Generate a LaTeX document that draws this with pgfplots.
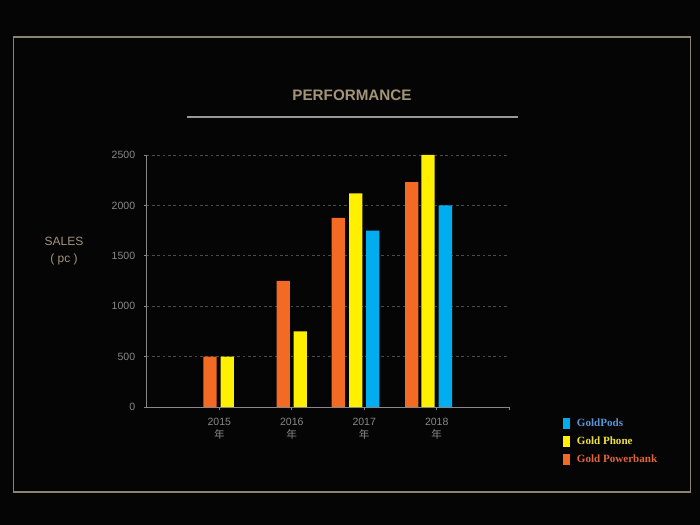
\documentclass[border=0pt]{standalone}
\usepackage{fontspec}
\setmainfont{Liberation Sans}
\newfontfamily\legfont{Liberation Serif}
\newfontfamily\cjk{Noto Sans CJK SC}
\usepackage{pgfplots}
\pgfplotsset{compat=1.18}
\definecolor{bgc}{HTML}{050505}
\definecolor{frm}{HTML}{8C8375}
\definecolor{tanc}{HTML}{A39479}
\definecolor{cOr}{HTML}{F26A24}
\definecolor{cYe}{HTML}{FFF000}
\definecolor{cBl}{HTML}{00ADEF}
\definecolor{tkc}{HTML}{888888}
\definecolor{gridc}{HTML}{4A4A4A}
\definecolor{lBl}{HTML}{5A94D8}
\definecolor{lYe}{HTML}{F0E040}
\definecolor{lOr}{HTML}{E0643A}
\begin{document}
\begin{tikzpicture}[x=0.75pt,y=0.75pt]
\fill[bgc] (0,0) rectangle (700,525);
\draw[frm, line width=1.1pt] (13.3,488) rectangle (690.7,33);
\node[tanc, font=\bfseries\fontsize{11.4}{13}\selectfont] at (352,430) {PERFORMANCE};
\draw[gray!80, line width=1pt] (187,408) -- (518,408);
\node[tanc, font=\fontsize{9}{12.5}\selectfont, align=center] at (64,274) {SALES\\( pc )};
\begin{axis}[
  at={(110.1pt,88.5pt)}, anchor=south west,
  scale only axis, width=271.8pt, height=189pt,
  xmin=-1, xmax=4, ymin=0, ymax=2500,
  axis lines=left, axis line style={tkc, -, line width=0.7pt},
  xtick={0,1,2,3,4},
  xticklabels={{2015\\{\cjk 年}},{2016\\{\cjk 年}},{2017\\{\cjk 年}},{2018\\{\cjk 年}},{}},
  xticklabel style={align=center, font=\fontsize{7.9}{9.3}\selectfont, text=tkc, yshift=-2.8pt},
  ytick={0,500,1000,1500,2000,2500},
  yticklabel style={font=\fontsize{7.9}{9}\selectfont, text=tkc, xshift=-3pt},
  /pgf/number format/assume math mode=true,
  /pgf/number format/1000 sep={},
  ymajorgrids, grid style={gridc, dash pattern=on 2pt off 2pt, line width=0.6pt},
  major tick length=2.2pt, tick style={tkc, line width=0.6pt}, tick align=outside,
  reverse legend,
  legend image code/.code={\fill[#1] (0pt,-4.1pt) rectangle (5.25pt,4.1pt);},
  legend style={at={(axis description cs:1.147,-0.042)}, anchor=north west,
    draw=none, fill=none, inner sep=0pt, row sep=5pt,
    /tikz/every odd column/.append style={column sep=4.8pt},
    nodes={inner sep=0.6pt, font=\legfont\bfseries\fontsize{8.3}{10}\selectfont}},
  legend cell align=left,
]
\addplot[ybar, bar width=10pt, bar shift=0pt, fill=cOr, draw=none]
  coordinates {(-0.128,500) (0.883,1250) (1.642,1875) (2.655,2230)};
\addlegendentry{\textcolor{lOr}{Gold Powerbank}}
\addplot[ybar, bar width=10pt, bar shift=0pt, fill=cYe, draw=none]
  coordinates {(0.110,500) (1.116,750) (1.882,2120) (2.880,2500)};
\addlegendentry{\textcolor{lYe}{Gold Phone}}
\addplot[ybar, bar width=10pt, bar shift=0pt, fill=cBl, draw=none]
  coordinates {(2.117,1750) (3.119,2000)};
\addlegendentry{\textcolor{lBl}{GoldPods}}
\end{axis}
\end{tikzpicture}
\end{document}
